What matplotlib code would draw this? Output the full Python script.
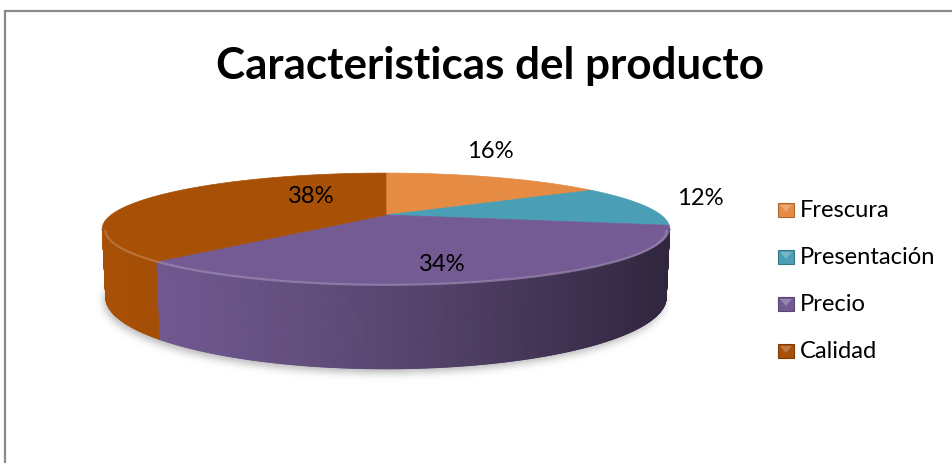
import numpy as np
import matplotlib
matplotlib.use("Agg")
import matplotlib.pyplot as plt
from matplotlib.patches import Polygon, Rectangle
from matplotlib.collections import PolyCollection
from matplotlib.path import Path
from matplotlib.colors import to_rgb

# ---- data ----
categories = ["Frescura", "Presentación", "Precio", "Calidad"]
shares = [16, 12, 34, 38]
pct_labels = ["16%", "12%", "34%", "38%"]
title_text = "Caracteristicas del producto"

slice_colors = ["#E68B43", "#4A9EB5", "#745B94", "#A85006"]

# ---- layout (pixels) ----
W_PX, H_PX = 952, 464
label_xy = [(490, 152), (700, 199), (442, 265), (311, 197)]
legend_x, legend_rows = 778, [211, 258, 305, 352]
FONT = ["Lato", "DejaVu Sans"]

fig = plt.figure(figsize=(W_PX / 100, H_PX / 100), dpi=100)
ax = fig.add_axes([0, 0, 1, 1])
ax.set_xlim(0, W_PX)
ax.set_ylim(H_PX, 0)
ax.axis("off")

# ---- simple perspective camera for the 3-D disc ----
CX, CY = 386, 216
ELEV = np.deg2rad(10.95)
DIST = 4.0
SCALE = 1100
THICK = 0.243


def project(x, y, z):
    ce, se = np.cos(ELEV), np.sin(ELEV)
    up = y * ce - z * se
    depth = DIST - (z * ce + y * se)
    return CX + SCALE * x / depth, CY - SCALE * up / depth


def rim(theta_deg, y, r=1.0):
    t = np.deg2rad(theta_deg)
    return project(r * np.cos(t), y, -r * np.sin(t))


total = float(sum(shares))
starts, ends = [], []
a = 90.0
for s in shares:
    starts.append(a)
    a -= 360.0 * s / total
    ends.append(a)


def slice_of(theta):
    th = theta - 360 if theta > 90 else theta
    for i, (s0, s1) in enumerate(zip(starts, ends)):
        if s1 <= th <= s0:
            return i
    return len(shares) - 1


def shade(sx):
    t = np.clip((sx - 105) / 562.0, 0, 1)
    return 1.0 - 0.58 * t ** 1.3


# visible part of the outer wall: between the left and right silhouettes
sil = np.degrees(np.arcsin(-np.cos(ELEV) / DIST))   # about -14 deg
wall_lo, wall_hi = 180 - sil, 360 + sil

# ---- soft drop shadow under the disc ----
th = np.linspace(0, 360, 361)
bx, by = rim(th, -THICK)
shadow_path = Path(np.column_stack([bx - 2, by + 4]))
gx, gy = np.meshgrid(np.arange(W_PX) + 0.5, np.arange(H_PX) + 0.5)
mask = shadow_path.contains_points(np.column_stack([gx.ravel(), gy.ravel()]))
mask = mask.reshape(H_PX, W_PX).astype(float)
sig = 4.0
k = np.exp(-0.5 * (np.arange(-13, 14) / sig) ** 2)
k /= k.sum()
mask = np.apply_along_axis(lambda r: np.convolve(r, k, mode="same"), 1, mask)
mask = np.apply_along_axis(lambda c: np.convolve(c, k, mode="same"), 0, mask)
rgba = np.zeros((H_PX, W_PX, 4))
rgba[..., :3] = 0.45
rgba[..., 3] = 0.5 * mask
ax.imshow(rgba, extent=(0, W_PX, H_PX, 0), zorder=1, interpolation="bilinear")

# ---- outer wall (front half), shaded left to right ----
thetas = np.linspace(wall_lo, wall_hi, 721)
polys, cols = [], []
for t0, t1 in zip(thetas[:-1], thetas[1:]):
    x0t, y0t = rim(t0, 0)
    x1t, y1t = rim(t1, 0)
    x0b, y0b = rim(t0, -THICK)
    x1b, y1b = rim(t1, -THICK)
    polys.append([(x0t, y0t), (x1t, y1t), (x1b, y1b), (x0b, y0b)])
    base = np.array(to_rgb(slice_colors[slice_of(0.5 * (t0 + t1))]))
    cols.append(np.clip(base * shade(0.5 * (x0t + x1t)), 0, 1))
ax.add_collection(PolyCollection(polys, facecolors=cols, edgecolors=cols,
                                 linewidths=0.6, zorder=2))

# ---- top faces ----
cx0, cy0 = project(0, 0, 0)
for i in range(len(shares)):
    arc = np.linspace(starts[i], ends[i], 200)
    ax_, ay_ = rim(arc, 0)
    pts = [(cx0, cy0)] + list(zip(ax_, ay_))
    ax.add_patch(Polygon(pts, closed=True, facecolor=slice_colors[i],
                         edgecolor=slice_colors[i], lw=0.5, zorder=3))

# bevel highlight along the front rim
for t0, t1 in zip(thetas[:-1:6], thetas[6::6]):
    c = np.array(to_rgb(slice_colors[slice_of(0.5 * (t0 + t1))]))
    c = c + (1 - c) * 0.3
    seg = np.linspace(t0, t1, 4)
    hx, hy = rim(seg, 0, r=0.99)
    ax.plot(hx, hy + 1.5, color=c, lw=1.6, alpha=0.7, zorder=4,
            solid_capstyle="butt")

# ---- chart frame ----
ax.plot([4.5, 4.5, W_PX], [H_PX, 11.5, 11.5], color="#8a8a8a", lw=1.6,
        zorder=6, solid_joinstyle="miter")

# ---- text ----
renderer = fig.canvas.get_renderer()


def fitted(txt, target_w, **kw):
    t = ax.text(0, 0, txt, fontsize=20, family=FONT, **kw)
    w = t.get_window_extent(renderer).width
    t.remove()
    return 20 * target_w / w


title_size = fitted(title_text, 550, fontweight="bold")
ax.text(490, 66, title_text, fontsize=title_size, fontweight="bold",
        family=FONT, ha="center", va="center", color="black", zorder=7)

small = fitted("Presentación", 136)
for (lx, ly), lab in zip(label_xy, pct_labels):
    ax.text(lx, ly, lab, fontsize=small, family=FONT, ha="center",
            va="center", color="black", zorder=7)

for name, col, ry in zip(categories, slice_colors, legend_rows):
    c = np.array(to_rgb(col))
    ax.add_patch(Rectangle((legend_x, ry - 7), 16, 14, facecolor=c,
                           edgecolor=c * 0.75, lw=0.8, zorder=7))
    light = c + (1 - c) * 0.25
    ax.add_patch(Polygon([(legend_x + 2, ry - 5), (legend_x + 14, ry - 5),
                          (legend_x + 8, ry + 2)], closed=True,
                         facecolor=light, edgecolor="none", zorder=8))
    ax.text(legend_x + 22, ry, name, fontsize=small, family=FONT,
            ha="left", va="center", color="black", zorder=7)

fig.savefig("out.png", dpi=100, facecolor="white")
